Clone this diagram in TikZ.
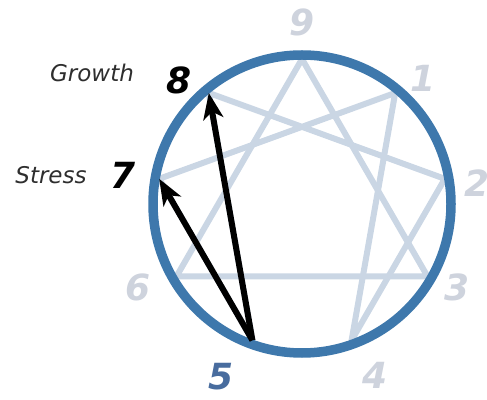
\documentclass[tikz,border=0pt]{standalone}
\usepackage{fontspec}
\setmainfont{DejaVu Sans}
\usetikzlibrary{arrows.meta,calc}
\definecolor{RingBlue}{RGB}{62,120,172}
\definecolor{StarGray}{RGB}{202,214,228}
\definecolor{NumGray}{RGB}{206,211,221}
\definecolor{FiveBlue}{RGB}{72,108,158}
\tikzset{
	num/.style={font=\fontsize{36}{36}\selectfont\bfseries\itshape,inner sep=0pt},
	word/.style={font=\fontsize{23}{23}\selectfont\itshape,inner sep=0pt,text=black!82},
	starline/.style={draw=StarGray,line width=6pt,line join=round,line cap=round},
	ring/.style={draw=RingBlue,line width=9.5pt},
	move/.style={draw=black,line width=6pt,-{Stealth[length=26pt,width=20pt,inset=7pt]}},
}

\begin{document}
\begin{tikzpicture}[x=1pt,y=1pt]
	\useasboundingbox (0,0) rectangle (487,399);
	\coordinate (c) at (302,195);
	% points of the star
	\foreach \n in {0,...,8}{
		\coordinate (p\n) at ($(c)+({90-40*\n}:145)$);
	}
	\draw[starline] (p0)--(p3)--(p6)--cycle;
	\draw[starline] (p1)--(p4)--(p2)--(p8)--(p5)--(p7)--cycle;
	\draw[ring] (c) circle (149);
	\draw[move] (p5) to (p8);
	\draw[move] (p5) to (p7);
	% numbers
	\foreach \n/\x/\y in {0/302/377,1/423/321,2/477/216,3/457/112,4/375/24,6/138/112}{
		\node[num,text=NumGray] (n\n) at (\x,\y) {\ifnum\n=0 9\else\n\fi};
	}
	\node[num,text=FiveBlue] (n5) at (221,22) {5};
	\node[num] (n7) at (123,224) {7};
	\node[num] (n8) at (179,319) {8};
	\node[word] (grow) at (92,326) {Growth};
	\node[word] (stress) at (51,224) {Stress};
\end{tikzpicture}
\end{document}
